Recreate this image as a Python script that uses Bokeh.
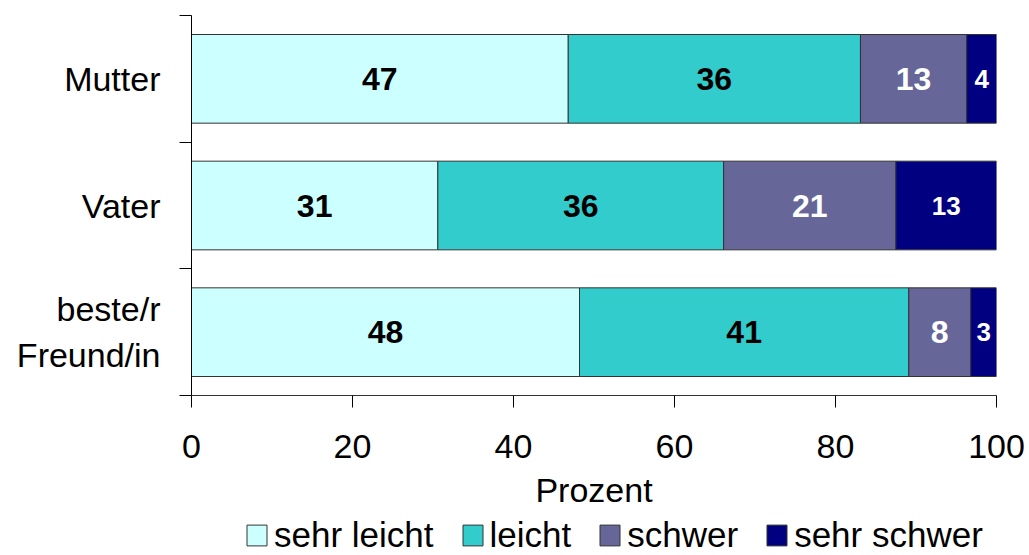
from bokeh.plotting import figure
from bokeh.models import ColumnDataSource, LinearAxis, FixedTicker, Range1d, Legend
from bokeh.layouts import column
from bokeh.core.properties import value
from bokeh.embed import file_html
from bokeh.resources import INLINE

categories = ["Mutter", "Vater", "beste/r\nFreund/in"]
series = ["sehr leicht", "leicht", "schwer", "sehr schwer"]
sehr_leicht = [46.8, 30.6, 48.2]
leicht = [36.3, 35.5, 40.9]
schwer = [13.2, 21.4, 7.7]
sehr_schwer = [3.7, 12.5, 3.2]
colors = ["#CCFFFF", "#33CCCC", "#666699", "#000080"]
label_colors = ["black", "black", "white", "white"]
label_sizes = ["32px", "32px", "32px", "26px"]
x_ticks = [0, 20, 40, 60, 80, 100]

FONT = "Liberation Sans"
ypos = [len(categories) - 0.5 - i for i in range(len(categories))]

p = figure(width=1029, height=513, output_backend="svg", toolbar_location=None,
           x_range=Range1d(0, 100), y_range=Range1d(0, 3),
           min_border_left=191, min_border_right=33, min_border_top=15, min_border_bottom=118)
p.outline_line_color = None
p.xgrid.visible = False
p.ygrid.visible = False

# legend strip below the chart
lg = figure(width=1029, height=42, output_backend="svg", toolbar_location=None,
            x_axis_type=None, y_axis_type=None, x_range=Range1d(0, 100), y_range=Range1d(0, 3),
            min_border_left=0, min_border_right=0, min_border_top=0, min_border_bottom=0)
lg.outline_line_color = None

left = [0.0] * len(categories)
data = [sehr_leicht, leicht, schwer, sehr_schwer]
items = []
for s, vals, col, lc, ls in zip(series, data, colors, label_colors, label_sizes):
    right = [l + v for l, v in zip(left, vals)]
    src = ColumnDataSource(dict(y=ypos, left=left, right=right,
                                mid=[(a + b) / 2 for a, b in zip(left, right)],
                                txt=[str(int(v + 0.5)) for v in vals]))
    p.hbar(y="y", left="left", right="right", height=0.70, source=src,
           fill_color=col, line_color="#333333", line_width=1)
    p.text(x="mid", y="y", text="txt", source=src, text_align="center", text_baseline="middle",
           text_font=value(FONT), text_font_style="bold", text_font_size=ls, text_color=lc)
    # same series in the legend strip, hidden: only its legend swatch is shown
    r = lg.hbar(y="y", left="left", right="right", height=0.70, source=src,
                fill_color=col, line_color="#333333", line_width=1, visible=False)
    items.append((s, [r]))
    left = right

# x axis
xa = p.xaxis[0]
xa.ticker = FixedTicker(ticks=x_ticks)
xa.minor_tick_line_color = None
xa.major_tick_in = 0
xa.major_tick_out = 12
xa.major_tick_line_color = "black"
xa.axis_line_color = "#333333"
xa.major_label_text_font = FONT
xa.major_label_text_font_size = "34px"
xa.major_label_text_color = "black"
xa.major_label_standoff = 27
xa.axis_label = "Prozent"
xa.axis_label_text_font = FONT
xa.axis_label_text_font_size = "34px"
xa.axis_label_text_font_style = "normal"
xa.axis_label_text_color = "black"
xa.axis_label_standoff = 10

# y axis with ticks at category boundaries
ya = p.yaxis[0]
ya.ticker = FixedTicker(ticks=[0, 1, 2, 3])
ya.minor_tick_line_color = None
ya.major_tick_in = 0
ya.major_tick_out = 12
ya.major_tick_line_color = "black"
ya.axis_line_color = "black"
ya.major_label_text_font_size = "1px"
ya.major_label_text_alpha = 0
ya.major_label_standoff = 0

# y axis carrying the category names
ya2 = LinearAxis(ticker=FixedTicker(ticks=ypos),
                 major_label_overrides={y: c for y, c in zip(ypos, categories)})
ya2.axis_line_color = None
ya2.major_tick_line_color = None
ya2.minor_tick_line_color = None
ya2.major_tick_in = 0
ya2.major_tick_out = 0
ya2.major_label_standoff = 19
ya2.major_label_text_font = FONT
ya2.major_label_text_font_size = "34px"
ya2.major_label_text_color = "black"
p.add_layout(ya2, "left")

legend = Legend(items=items, orientation="horizontal", location=(53, 0),
                label_text_font=FONT, label_text_font_size="35px", label_text_color="black",
                glyph_width=25, glyph_height=26, label_standoff=5, spacing=26,
                border_line_color=None, background_fill_alpha=0, padding=0, margin=0,
                inactive_fill_alpha=0)
lg.add_layout(legend, "center")

layout = column(p, lg, spacing=0)
open("out.html", "w").write(file_html(layout, INLINE))
